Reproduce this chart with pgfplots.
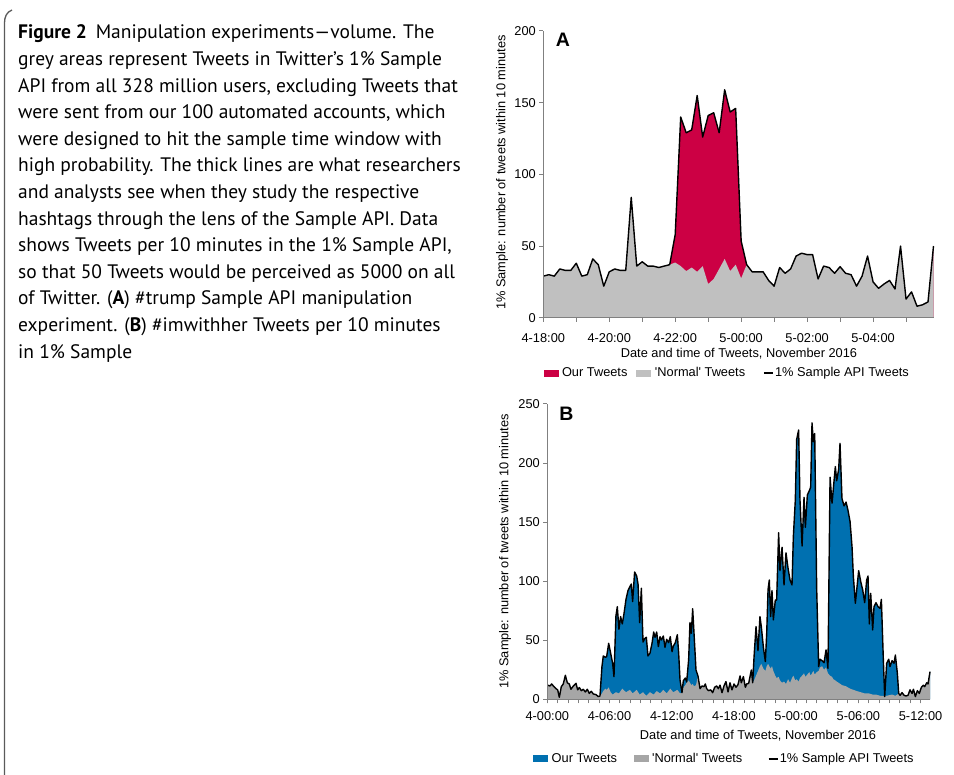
\documentclass[border=0pt]{standalone}
\usepackage{fontspec}
\setmainfont{Liberation Sans}
\newfontfamily\capfont{PT Sans}
\usepackage{pgfplots}
\usepackage{pgfplotstable}
\pgfplotsset{compat=1.18}
\definecolor{ourred}{RGB}{204,0,68}
\definecolor{ourblue}{RGB}{0,112,176}
\definecolor{greyA}{RGB}{192,192,192}
\definecolor{greyB}{RGB}{166,166,166}
\definecolor{axgray}{RGB}{128,128,128}
\definecolor{framegray}{RGB}{90,90,90}

% Panel A: 10-minute bins from 4-18:00 (x = bin index)
\pgfplotstableread{
x y
0 29
1 30
2 29
3 34
4 33
5 33
6 38
7 29
8 30
9 41
10 37
11 22
12 32
13 34
14 33
15 33
16 84
17 36
18 39
19 36
20 36
21 35
22 36
23 37
24 58
25 140
26 129
27 131
28 155
29 126
30 141
31 143
32 129
33 159
34 143.5
35 146
36 53.5
37 37
38 32
39 32
40 32
41 26
42 22
43 35
44 31
45 34
46 43
47 45
48 44
49 44
50 27
51 36
52 35
53 31
54 35.6
55 31
56 30
57 22
58 29
59 43
60 25
61 20.5
62 23.5
63 26
64 20
65 50
66 13
67 18
68 8
69 9
70 11
71 50
}\totalA
\pgfplotstableread{
x y
0 29
1 30
2 29
3 34
4 33
5 33
6 38
7 29
8 30
9 41
10 37
11 22
12 32
13 34
14 33
15 33
16 84
17 36
18 39
19 36
20 36
21 35
22 36
23 37
24 38.5
25 36
26 32.5
27 35
28 32
29 36
30 23.5
31 27
32 34
33 41
34 32.5
35 37
36 27.5
37 37
38 32
39 32
40 32
41 26
42 22
43 35
44 31
45 34
46 43
47 45
48 44
49 44
50 27
51 36
52 35
53 31
54 35.6
55 31
56 30
57 22
58 29
59 43
60 25
61 20.5
62 23.5
63 26
64 20
65 50
66 13
67 18
68 8
69 9
70 11
71 50
}\normalA

% Panel B: hours from 4-00:00
\pgfplotstableread{
x y
0 12.1
0.26 11.3
0.42 13
0.64 10.7
0.84 9
1.00 8
1.16 1.7
1.35 10.7
1.54 13
1.74 20.3
1.93 14
2.12 13
2.28 8.5
2.51 11.3
2.77 13.5
2.93 8
3.09 10
3.28 7.3
3.47 8.5
3.67 6.2
3.86 8.5
4.05 5
4.24 6.8
4.44 4.5
4.69 4
4.92 2.3
5.08 2.8
5.27 27.7
5.40 36.7
5.59 35.6
5.72 36
5.92 47.4
6.11 39
6.30 30.5
6.43 19.2
6.62 70.5
6.75 78.4
6.91 59.3
7.07 70
7.23 63.8
7.40 72.8
7.59 84.6
7.78 92
7.97 95.4
8.10 97.6
8.23 82.7
8.42 107.8
8.62 104.4
8.75 97.6
8.91 64.9
9.07 94
9.23 48.5
9.39 51.4
9.55 52.5
9.71 36.7
9.90 39
10.10 47.4
10.26 57
10.39 52.5
10.55 57
10.71 44.6
10.87 53
11.00 50.2
11.19 53.6
11.35 44
11.51 50.8
11.70 48
11.86 53
12.03 40.3
12.15 45
12.35 48
12.54 54.7
12.67 39
12.80 16.4
12.99 5.6
13.12 15.8
13.31 18
13.44 14.7
13.63 33.3
13.76 64.9
13.89 55.9
14.02 76.7
14.15 55.9
14.34 24.8
14.53 19.8
14.73 9
14.92 11.3
15.11 10.7
15.24 13
15.37 9
15.56 7.3
15.76 8
15.95 5.6
16.14 10.2
16.33 11.3
16.50 9
16.66 12
16.85 5.6
17.04 11.3
17.23 15
17.43 6.2
17.62 14
17.81 8
18.01 13
18.20 10.2
18.39 12.4
18.59 19.8
18.71 14
18.91 19.2
19.10 10.2
19.23 13
19.42 13.5
19.55 19.2
19.68 24.8
19.81 14
19.94 36
20.13 61.5
20.32 41.2
20.51 70
20.64 61.5
20.84 44
21.03 31.9
21.16 55.9
21.29 93
21.41 101
21.54 70
21.67 92
21.80 67.2
21.99 84
22.12 84
22.31 141
22.44 108.9
22.64 128.7
22.83 96.8
23.02 124
23.22 110.9
23.41 101
23.60 96.8
23.73 137.7
23.92 168.7
24.05 220
24.24 228
24.37 168.7
24.57 129.8
24.76 171
24.89 145.6
25.08 173
25.27 176.6
25.40 179.5
25.53 234
25.66 218
25.79 225
25.98 94
26.17 27.7
26.30 33.9
26.50 32.7
26.69 31
26.88 41.8
27.07 26.2
27.27 188
27.46 166
27.59 178.6
27.78 197
27.91 185
28.10 194.7
28.23 216.7
28.42 170
28.62 163.7
28.81 167
29.00 160
29.20 150.4
29.39 129
29.52 103.8
29.71 81.3
29.84 92.5
30.03 108.9
30.23 99.6
30.42 92.5
30.61 81.8
30.80 101
30.93 104.4
31.06 63.8
31.19 89.7
31.38 58.7
31.51 78.4
31.70 81.8
31.90 78.4
32.09 77
32.22 84.6
32.41 33.3
32.54 2.3
32.73 30.5
32.93 33.9
33.05 27.7
33.25 32.7
33.44 30.5
33.57 37.5
33.76 22
33.89 5
34.02 3.4
34.21 5.6
34.41 3.4
34.60 2.8
34.79 3.4
34.98 8
35.18 5
35.31 8.5
35.50 2.3
35.69 7.3
35.88 5
36.08 10.2
36.27 11.9
36.40 10.7
36.59 14
36.72 13
36.91 23.4
}\totalB
\pgfplotstableread{
x y
0 12.1
0.26 11.3
0.42 13
0.64 10.7
0.84 9
1.00 8
1.16 1.7
1.35 10.7
1.54 13
1.74 20.3
1.93 14
2.12 13
2.28 8.5
2.51 11.3
2.77 13.5
2.93 8
3.09 10
3.28 7.3
3.47 8.5
3.67 6.2
3.86 8.5
4.05 5
4.24 6.8
4.44 4.5
4.69 4
4.92 2.3
5.08 2.8
5.27 5
5.40 7
5.59 9
5.72 8
5.92 10
6.11 6
6.30 4
6.62 6
6.91 5
7.23 9
7.59 6
7.97 8
8.23 5
8.62 8
8.91 4
9.23 6
9.55 3
9.90 6
10.26 4
10.55 7
10.87 5
11.19 8
11.51 5
11.86 9
12.15 6
12.54 8
12.80 5
12.99 5.6
13.12 10
13.31 12
13.44 14
13.63 16
13.76 14
13.89 12
14.02 13
14.15 11
14.34 12
14.53 19.8
14.73 9
14.92 11.3
15.11 10.7
15.24 13
15.37 9
15.56 7.3
15.76 8
15.95 5.6
16.14 10.2
16.33 11.3
16.50 9
16.66 12
16.85 5.6
17.04 11.3
17.23 15
17.43 6.2
17.62 14
17.81 8
18.01 13
18.20 10.2
18.39 12.4
18.59 19.8
18.71 14
18.91 19.2
19.10 10.2
19.23 13
19.42 13.5
19.55 19.2
19.68 24.8
19.81 14
19.94 16
20.13 20
20.32 24
20.51 28
20.64 30
20.84 26
21.03 24
21.16 28
21.29 30
21.41 28
21.54 26
21.67 28
21.80 24
21.99 20
22.12 18
22.31 19
22.44 16
22.64 14
22.83 15
23.02 13
23.22 17
23.41 14
23.60 18
23.73 20
23.92 16
24.05 17
24.24 15
24.37 18
24.57 20
24.76 22
24.89 19
25.08 21
25.27 23
25.40 20
25.53 22
25.66 24
25.79 21
25.98 23
26.17 24
26.30 27
26.50 28
26.69 25
26.88 27
27.07 22
27.27 20
27.46 19
27.59 17
27.78 16
27.91 15
28.10 14
28.42 12
28.81 11
29.20 9
29.52 8
29.84 7
30.23 6
30.61 5
31.00 5
31.38 4
31.70 4
32.09 3
32.41 3
32.54 2.3
32.73 3
33.25 4
33.57 3
33.76 4
33.89 5
34.02 3.4
34.21 5.6
34.41 3.4
34.60 2.8
34.79 3.4
34.98 8
35.18 5
35.31 8.5
35.50 2.3
35.69 7.3
35.88 5
36.08 10.2
36.27 11.9
36.40 10.7
36.59 14
36.72 13
36.91 23.4
}\normalB

\pgfplotsset{
  panel/.style={
    scale only axis, axis on top, clip=false,
    axis x line=bottom, axis y line=left,
    every outer x axis line/.append style={-},
    every outer y axis line/.append style={-},
    axis line style={draw=axgray, line width=1bp, -},
    tick align=outside, major tick length=4bp, minor tick length=4bp,
    tick style={draw=axgray, line width=1bp},
    ticklabel style={font=\fontsize{12.8bp}{14bp}\selectfont, text=black},
    label style={font=\fontsize{12.8bp}{14bp}\selectfont},
    /pgf/number format/assume math mode=true,
    legend columns=3,
    legend cell align=left,
    legend style={draw=none, fill=none, inner sep=0pt,
      font=\fontsize{12.8bp}{14bp}\selectfont,
      nodes={inner sep=1.5bp}},
  },
  areaimg/.style={legend image code/.code={\fill[##1] (0bp,-3.5bp) rectangle (15bp,3.5bp); \path (17bp,0bp);}},
  lineimg/.style={legend image code/.code={\path (0bp,0bp); \draw[##1] (9bp,0bp) -- (18bp,0bp);}},
}

\begin{document}
\begin{tikzpicture}
\useasboundingbox (0,0) rectangle (954bp,775bp);

% frame
\draw[framegray, line width=1.3bp] (4.5bp,0bp) -- (4.5bp,752bp) to[out=90,in=200] (12bp,765bp);

% caption
\begin{scope}[every node/.style={anchor=base west, inner sep=0pt, font=\capfont\fontsize{19.5bp}{24bp}\selectfont}]
\node at (18bp,736bp) {\textbf{Figure 2}\hspace{0.45em}Manipulation experiments—volume. The};
\node at (18bp,709.4bp) {grey areas represent Tweets in Twitter’s 1\% Sample};
\node at (18bp,682.8bp) {API from all 328 million users, excluding Tweets that};
\node at (18bp,656.2bp) {were sent from our 100 automated accounts, which};
\node at (18bp,629.6bp) {were designed to hit the sample time window with};
\node at (18bp,603bp) {high probability. The thick lines are what researchers};
\node at (18bp,576.4bp) {and analysts see when they study the respective};
\node at (18bp,549.8bp) {hashtags through the lens of the Sample API. Data};
\node at (18bp,523.2bp) {shows Tweets per 10 minutes in the 1\% Sample API,};
\node at (18bp,496.6bp) {so that 50 Tweets would be perceived as 5000 on all};
\node at (18bp,470bp) {of Twitter. (\textbf{A}) \#trump Sample API manipulation};
\node at (18bp,443.4bp) {experiment. (\textbf{B}) \#imwithher Tweets per 10 minutes};
\node at (18bp,416.8bp) {in 1\% Sample};
\end{scope}

% Panel A
\begin{axis}[panel,
  at={(543.3bp,457.3bp)}, anchor=south west,
  width=390.2bp, height=286.7bp,
  xmin=0, xmax=71, ymin=0, ymax=200,
  xtick={0,12,...,60}, minor xtick={0,6,...,66},
  xticklabels={4-18:00,4-20:00,4-22:00,5-00:00,5-02:00,5-04:00},
  xticklabel style={yshift=-8bp},
  ytick={0,50,...,200},
  xlabel={Date and time of Tweets, November 2016},
  xlabel style={at={(axis description cs:0.5015,-0.125)}, anchor=center},
  ylabel={1\% Sample: number of tweets within 10 minutes},
  ylabel style={at={(axis description cs:-0.106,0.506)}, anchor=center},
  legend style={at={(axis description cs:0,-0.193)}, anchor=west,
    /tikz/every even column/.append style={column sep=7.5bp}},
]
\addplot[fill=ourred, draw=none, areaimg] table[x=x,y=y] {\totalA} \closedcycle;
\addlegendentry{Our Tweets}
\addplot[fill=greyA, draw=none, areaimg] table[x=x,y=y] {\normalA} \closedcycle;
\addlegendentry{\textquotesingle Normal\textquotesingle\ Tweets}
\addplot[black, line width=1.4bp, line join=round, lineimg] table[x=x,y=y] {\totalA};
\addlegendentry{1\% Sample API Tweets}
\node[font=\bfseries\fontsize{19.5bp}{20bp}\selectfont] at (axis cs:3.58,193.9) {A};
\end{axis}

% Panel B
\begin{axis}[panel,
  at={(547.3bp,75.7bp)}, anchor=south west,
  width=382.7bp, height=295.3bp,
  xmin=0, xmax=36.91, ymin=0, ymax=250,
  xtick={0,6,...,36}, minor xtick={0,...,36},
  xticklabels={4-00:00,4-06:00,4-12:00,4-18:00,5-00:00,5-06:00,5-12:00},
  xticklabel style={yshift=-5bp},
  ytick={0,50,...,250},
  xlabel={Date and time of Tweets, November 2016},
  xlabel style={at={(axis description cs:0.5506,-0.124)}, anchor=center},
  ylabel={1\% Sample: number of tweets within 10 minutes},
  ylabel style={at={(axis description cs:-0.1105,0.5005)}, anchor=center},
  legend style={at={(axis description cs:-0.0374,-0.202)}, anchor=west,
    /tikz/every even column/.append style={column sep=15bp}},
]
\addplot[fill=ourblue, draw=none, areaimg] table[x=x,y=y] {\totalB} \closedcycle;
\addlegendentry{Our Tweets}
\addplot[fill=greyB, draw=none, areaimg] table[x=x,y=y] {\normalB} \closedcycle;
\addlegendentry{\textquotesingle Normal\textquotesingle\ Tweets}
\addplot[black, line width=1.4bp, line join=round, lineimg] table[x=x,y=y] {\totalB};
\addlegendentry{1\% Sample API Tweets}
\node[font=\bfseries\fontsize{19.5bp}{20bp}\selectfont] at (axis cs:1.85,242.1) {B};
\end{axis}
\end{tikzpicture}
\end{document}
